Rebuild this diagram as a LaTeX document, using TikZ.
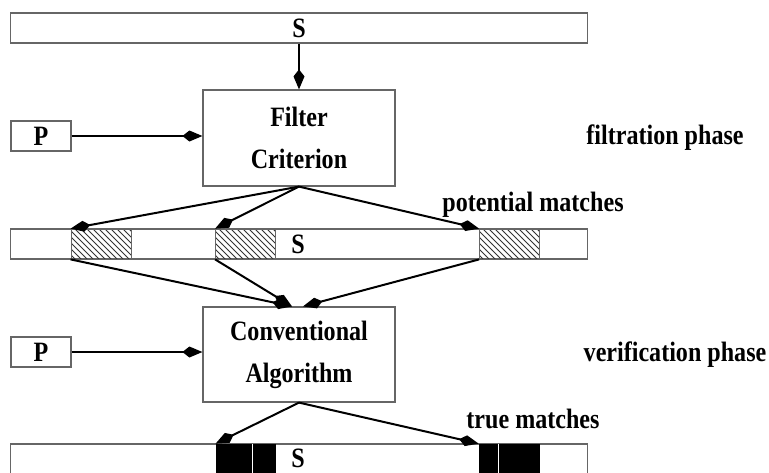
\documentclass[tikz,border=0pt]{standalone}
\usepackage{fontspec}
\setmainfont{Liberation Serif}[FakeStretch=0.86]
\usetikzlibrary{arrows.meta, patterns, calc}

\begin{document}
\begin{tikzpicture}[x=0.5pt, y=-0.5pt,
  >={Kite[length=10pt,width=5.5pt,inset=3.5pt]},
  every node/.style={font=\bfseries\fontsize{14}{21}\selectfont},
  strip/.style={draw=black!60, line width=0.6pt, minimum width=288.5pt, minimum height=15pt, inner sep=0pt},
  procbox/.style={draw=black!60, line width=0.6pt, minimum width=96pt, minimum height=48pt, align=center, inner sep=0pt},
  pbox/.style={draw=black!60, line width=0.6pt, minimum width=30pt, minimum height=15pt, inner sep=0pt},
  hatch/.style={draw=black!60, line width=0.4pt, pattern=north west lines, pattern color=black!80, minimum width=30pt, minimum height=15pt, inner sep=0pt},
  hit/.style={fill=black, minimum height=15pt, inner sep=0pt},
  flow/.style={->, line width=1pt}]
  \clip (0,0) rectangle (769,472);

  % filtration phase
  \node[strip] (s1) at (299,28) {S};
  \node[procbox] (filter) at (299,138) {Filter\\Criterion};
  \node[pbox] (p1) at (41,136) {P};
  \node (filt) at (665,138) {filtration phase};
  \draw[flow] (s1.south) -- (filter.north);
  \draw[flow] (p1.east) -- (p1.east -| filter.west);

  % potential matches
  \node[strip] (s2) at (299,244) {};
  \node at (298,244) {S};
  \node[hatch] (h1) at (101,244) {};
  \node[hatch] (h2) at (245.5,244) {};
  \node[hatch] (h3) at (509.5,244) {};
  \node (pot) at (533,205) {potential matches};
  \foreach \h in {h1,h2,h3}
    \draw[flow] (filter.south) -- (\h.north west);

  % verification phase
  \node[procbox, minimum height=47.5pt] (conv) at (299,354.5) {Conventional\\Algorithm};
  \node[pbox] (p2) at (41,352) {P};
  \node (verif) at (675,355) {verification phase};
  \coordinate (cl) at ($(conv.north)+(-7,0)$);
  \coordinate (cr) at ($(conv.north)+(4,0)$);
  \draw[flow] (h1.south west) -- (cl);
  \draw[flow] (h2.south west) -- (cl);
  \draw[flow] (h3.south west) -- (cr);
  \draw[flow] (p2.east) -- (p2.east -| conv.west);

  % true matches
  \node[strip] (s3) at (299,459) {};
  \node[hit, minimum width=30pt] (b1) at (246,459) {};
  \node[hit, minimum width=30.5pt] (b2) at (509.5,459) {};
  \draw[white, line width=0.6pt] ($(b1.north west)+(37,0)$) -- ($(b1.south west)+(37,0)$);
  \draw[white, line width=0.6pt] ($(b2.north west)+(20,0)$) -- ($(b2.south west)+(20,0)$);
  \node at (298,458) {S};
  \node (truem) at (533,419) {true matches};
  \draw[flow] (conv.south) -- (b1.north west);
  \draw[flow] (conv.south) -- (b2.north west);
\end{tikzpicture}
\end{document}
